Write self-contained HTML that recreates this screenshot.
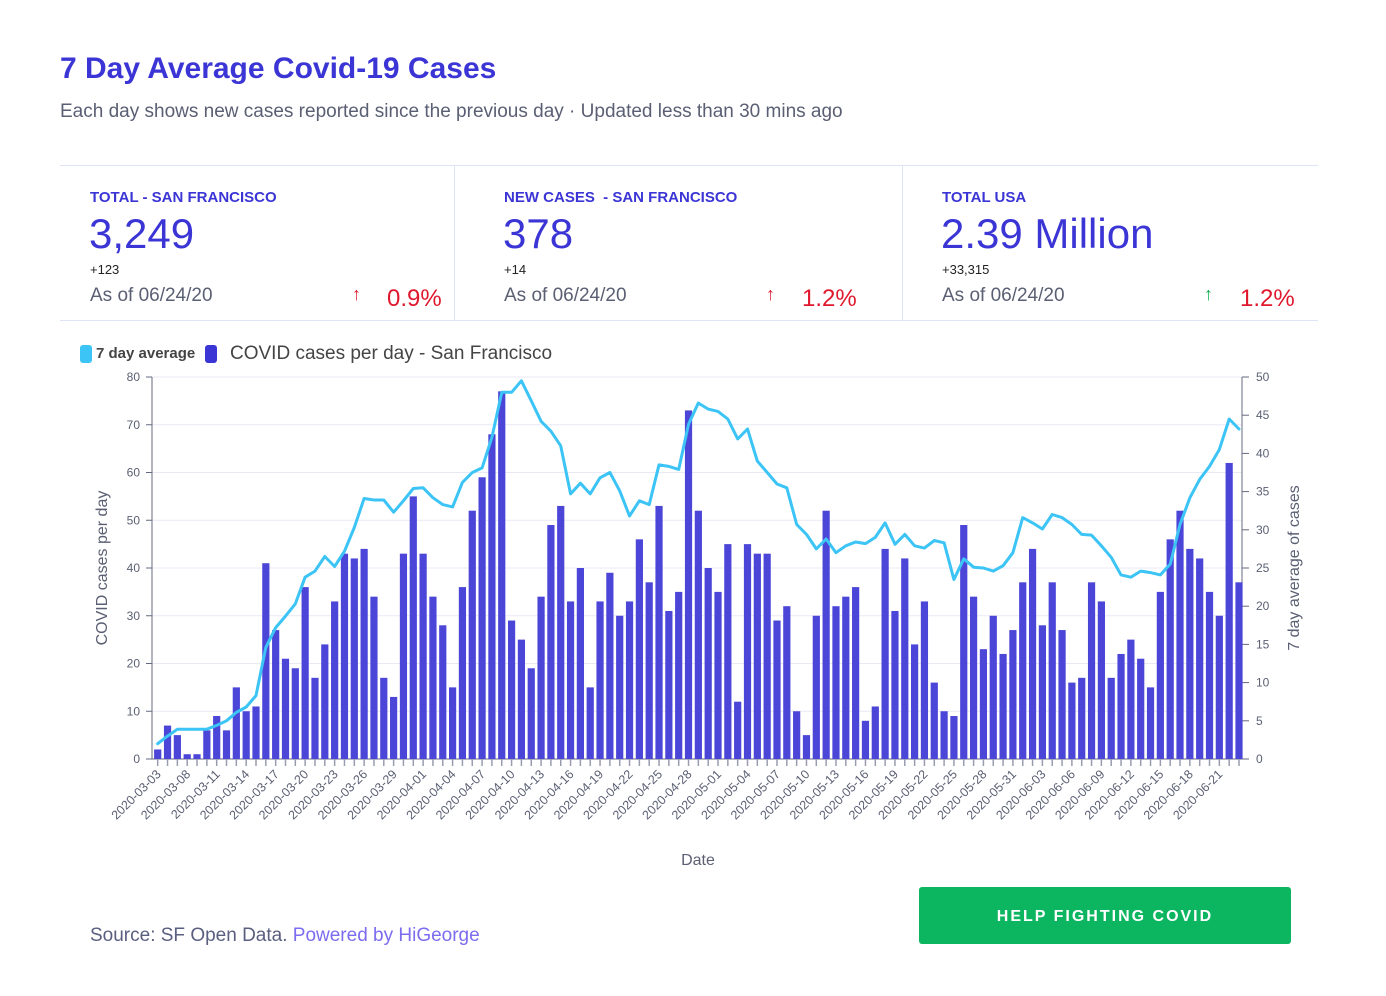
<!DOCTYPE html>
<html><head><meta charset="utf-8"><style>
body{margin:0;background:#fff;width:1386px;height:996px;overflow:hidden;font-family:"Liberation Sans",sans-serif;}
.abs{position:absolute;}
</style></head><body>
<div class="abs" style="left:60px;top:52px;font-size:30px;font-weight:bold;color:#3b35d6;">7 Day Average Covid-19 Cases</div>
<div class="abs" style="left:60px;top:101px;font-size:19px;color:#5a5f73;">Each day shows new cases reported since the previous day · Updated less than 30 mins ago</div>
<div class="abs" style="left:60px;top:165px;width:1258px;height:1px;background:#dde4f5;"></div>
<div class="abs" style="left:60px;top:320px;width:1258px;height:1px;background:#dde4f5;"></div>
<div class="abs" style="left:454px;top:166px;width:1px;height:154px;background:#dde4f5;"></div>
<div class="abs" style="left:902px;top:166px;width:1px;height:154px;background:#dde4f5;"></div>

<div>
<div class="abs" style="left:90px;top:189px;font-size:15px;font-weight:bold;color:#3b35d6;">TOTAL - SAN FRANCISCO</div>
<div class="abs" style="left:89px;top:210px;font-size:42px;color:#3b35d6;">3,249</div>
<div class="abs" style="left:90px;top:262px;font-size:13px;color:#222;">+123</div>
<div class="abs" style="left:90px;top:285px;font-size:19px;color:#5a5f73;">As of 06/24/20</div>
<div class="abs" style="left:352px;top:284px;font-size:18px;color:#e0182d;">↑</div>
<div class="abs" style="left:387px;top:285px;font-size:24px;color:#e0182d;">0.9%</div>
</div>
<div>
<div class="abs" style="left:504px;top:189px;font-size:15px;font-weight:bold;color:#3b35d6;">NEW CASES &nbsp;- SAN FRANCISCO</div>
<div class="abs" style="left:503px;top:210px;font-size:42px;color:#3b35d6;">378</div>
<div class="abs" style="left:504px;top:262px;font-size:13px;color:#222;">+14</div>
<div class="abs" style="left:504px;top:285px;font-size:19px;color:#5a5f73;">As of 06/24/20</div>
<div class="abs" style="left:766px;top:284px;font-size:18px;color:#e0182d;">↑</div>
<div class="abs" style="left:802px;top:285px;font-size:24px;color:#e0182d;">1.2%</div>
</div>
<div>
<div class="abs" style="left:942px;top:189px;font-size:15px;font-weight:bold;color:#3b35d6;">TOTAL USA</div>
<div class="abs" style="left:941px;top:210px;font-size:42px;color:#3b35d6;">2.39 Million</div>
<div class="abs" style="left:942px;top:262px;font-size:13px;color:#222;">+33,315</div>
<div class="abs" style="left:942px;top:285px;font-size:19px;color:#5a5f73;">As of 06/24/20</div>
<div class="abs" style="left:1204px;top:284px;font-size:18px;color:#10b050;">↑</div>
<div class="abs" style="left:1240px;top:285px;font-size:24px;color:#e0182d;">1.2%</div>
</div>

<div class="abs" style="left:80px;top:343px;height:22px;">
<span class="abs" style="left:0;top:2px;width:12px;height:18px;border-radius:3px;background:#3bc4f5;"></span>
<span class="abs" style="left:16px;top:2px;font-size:15px;font-weight:bold;color:#444;white-space:nowrap;">7 day average</span>
<span class="abs" style="left:125px;top:2px;width:12px;height:18px;border-radius:3px;background:#3b35d6;"></span>
<span class="abs" style="left:150px;top:0px;font-size:19px;color:#444;white-space:nowrap;">COVID cases per day - San Francisco</span>
</div>

<svg class="abs" style="left:0;top:0" width="1386" height="996" id="chart"></svg>

<div class="abs" style="left:90px;top:925px;font-size:19px;color:#5a5f80;">Source: SF Open Data. <span style="color:#7b6cf0;">Powered by HiGeorge</span></div>
<div class="abs" style="left:919px;top:887px;width:372px;height:57px;background:#0cb55f;border-radius:3px;color:#fff;font-weight:bold;font-size:16px;letter-spacing:2px;text-align:center;line-height:59px;">HELP FIGHTING COVID</div>

<script>
const cases=[2,7,5,1,1,6,9,6,15,10,11,41,27,21,19,36,17,24,33,43,42,44,34,17,13,43,55,43,34,28,15,36,52,59,68,77,29,25,19,34,49,53,33,40,15,33,39,30,33,46,37,53,31,35,73,52,40,35,45,12,45,43,43,29,32,10,5,30,52,32,34,36,8,11,44,31,42,24,33,16,10,9,49,34,23,30,22,27,37,44,28,37,27,16,17,37,33,17,22,25,21,15,35,46,52,44,42,35,30,62,37];
const avg7=[2.0,3.0,3.9,3.9,3.9,3.9,4.4,5.0,6.1,6.8,8.3,14.6,17.2,18.7,20.3,23.8,24.6,26.5,25.2,27.2,30.3,34.1,33.9,33.9,32.3,33.8,35.4,35.5,34.2,33.3,33.0,36.2,37.5,38.1,42.1,48.0,48.0,49.5,46.9,44.2,42.9,41.0,34.7,36.1,34.7,36.8,37.5,35.1,31.8,33.8,33.3,38.5,38.3,37.9,43.8,46.6,45.8,45.5,44.5,41.9,43.2,39.0,37.5,36.0,35.5,30.7,29.4,27.5,28.8,27.0,27.9,28.4,28.2,29.0,30.9,28.1,29.4,27.9,27.6,28.6,28.3,23.5,26.2,25.1,25.0,24.6,25.3,27.0,31.6,30.9,30.1,32.0,31.6,30.7,29.4,29.3,27.9,26.4,24.1,23.8,24.6,24.4,24.1,25.5,30.7,34.2,36.6,38.3,40.5,44.5,43.2];
const leftTicks=[0,10,20,30,40,50,60,70,80];
const rightTicks=[0,5,10,15,20,25,30,35,40,45,50];
const firstDate="2020-03-03";
const NS="http://www.w3.org/2000/svg";
const svg=document.getElementById('chart');
const X0=157.7,DX=9.83,Y0=759,Y1=377;
const xPos=i=>X0+i*DX;
const yL=v=>Y0-(v/80)*(Y0-Y1);
const yR=v=>Y0-(v/50)*(Y0-Y1);
function mk(t,a){const e=document.createElementNS(NS,t);for(const k in a)e.setAttribute(k,a[k]);svg.appendChild(e);return e;}
const dates=[];
{let d=new Date(Date.UTC(2020,2,6));dates.push(firstDate);for(let i=1;i<cases.length;i++){dates.push(d.toISOString().slice(0,10));d=new Date(d.getTime()+86400000);}}
leftTicks.forEach(v=>{
 const g=mk('line',{x1:152,x2:1242,y1:yL(v),y2:yL(v),stroke:'#e9e9f5','stroke-width':1});
 
 
 const tk=mk('line',{x1:146,x2:152,y1:yL(v),y2:yL(v),stroke:'#666a80'});
 
 
 const t=mk('text',{x:140,y:yL(v)+4,'text-anchor':'end','font-size':12,fill:'#5a5f73'});t.textContent=v;
 
 
});
rightTicks.forEach(v=>{
 const tk=mk('line',{x1:1242,x2:1249,y1:yR(v),y2:yR(v),stroke:'#666a80'});
 
 
 const t=mk('text',{x:1256,y:yR(v)+4,'font-size':12,fill:'#5a5f73'});t.textContent=v;
 
 
});
let ax=mk('line',{x1:152,x2:152,y1:Y1,y2:Y0,stroke:'#666a80'});


ax=mk('line',{x1:1242,x2:1242,y1:Y1,y2:Y0,stroke:'#666a80'});


ax=mk('line',{x1:152,x2:1242,y1:Y0,y2:Y0,stroke:'#666a80'});


cases.forEach((v,i)=>{
 const b=mk('rect',{x:xPos(i)-3.6,y:yL(v),width:7.2,height:Y0-yL(v),fill:'#4b45d8'});
 
 
 const tk=mk('line',{x1:xPos(i),x2:xPos(i),y1:Y0,y2:Y0+7,stroke:'#9a9db0','stroke-width':1.5});
 
 
 if(i%3===0){
  const t=mk('text',{x:xPos(i)+4,y:Y0+16,'text-anchor':'end','font-size':12.5,fill:'#5a5f73',transform:`rotate(-45 ${xPos(i)+4} ${Y0+16})`});
  t.textContent=dates[i];
  
  
 }
});
const pts=avg7.map((v,i)=>xPos(i).toFixed(1)+','+yR(v).toFixed(1)).join(' ');
const ln=mk('polyline',{points:pts,fill:'none',stroke:'#3bc4f5','stroke-width':3,'stroke-linejoin':'round','stroke-linecap':'round'});


let t=mk('text',{x:107,y:568,'text-anchor':'middle','font-size':16,fill:'#5a5f73',transform:'rotate(-90 107 568)'});t.textContent='COVID cases per day';


t=mk('text',{x:1299,y:568,'text-anchor':'middle','font-size':16,fill:'#5a5f73',transform:'rotate(-90 1299 568)'});t.textContent='7 day average of cases';


t=mk('text',{x:698,y:865,'text-anchor':'middle','font-size':16,fill:'#5a5f73'});t.textContent='Date';


</script>
</body></html>
